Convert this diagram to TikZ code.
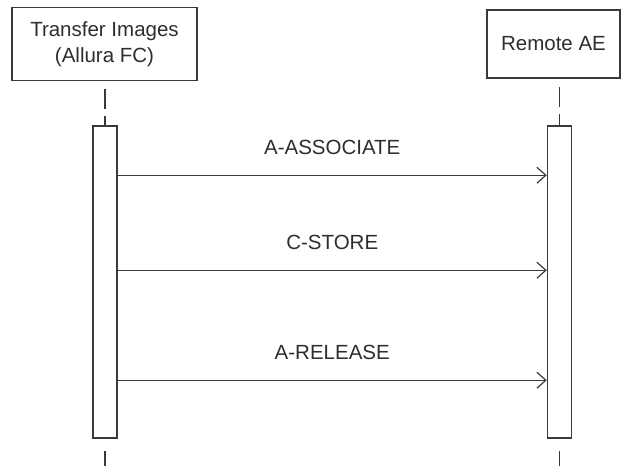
\documentclass[tikz,border=0pt]{standalone}
\usepackage{fontspec}
\setmainfont{Liberation Sans}
\usepackage{tikz}
\usetikzlibrary{arrows.meta, positioning}

\definecolor{linegray}{HTML}{3A3A3A}
\definecolor{textgray}{HTML}{2E2E2E}

\begin{document}
\begin{tikzpicture}[x=1pt,y=-1pt,line width=1.5pt,
        font=\fontsize{20.5}{26}\selectfont,text=textgray,
        actor/.style={draw=linegray,fill=white,align=center,inner sep=0pt},
        bar/.style={draw=linegray,fill=white,minimum width=24pt,minimum height=312pt,inner sep=0pt},
        life/.style={draw=linegray,dash pattern=on 20pt off 7pt},
        msg/.style={draw=linegray,line width=1.2pt,-{Straight Barb[length=9pt,width=16pt,line width=1.2pt]}}]

  \useasboundingbox (0,0) rectangle (621,466);

  \node[actor,minimum width=185pt,minimum height=73pt] (tx) at (104.5,44) {Transfer Images\\(Allura FC)};
  \node[actor,minimum width=133pt,minimum height=68pt] (ae) at (553.5,44) {Remote AE};

  \node[bar] (barL) at (105,282) {};
  \node[bar] (barR) at (559.5,282) {};

  \coordinate (topL) at (tx.south -| barL);
  \coordinate (topR) at (ae.south -| barR);
  \coordinate (endL) at (barL.south |- 0,466);
  \coordinate (endR) at (barR.south |- 0,466);

  % lifelines
  \draw[life] ([yshift=-8pt]topL) -- (barL.north);
  \draw[life] ([yshift=-8pt]topR) -- (barR.north);
  \draw[life] ([yshift=-12pt]barL.south) -- (endL);
  \draw[life] ([yshift=-12pt]barR.south) -- (endR);

  % messages
  \foreach \off/\lbl in {50/A-ASSOCIATE,145/C-STORE,255/A-RELEASE}
    \draw[msg] ([yshift=-\off pt]barL.north east) -- node[above=17pt] {\lbl} ([yshift=-\off pt]barR.north west);
\end{tikzpicture}
\end{document}
